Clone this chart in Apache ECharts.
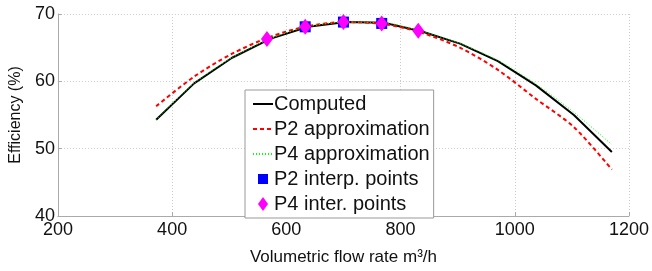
<!DOCTYPE html>
<html>
<head>
<meta charset="utf-8">
<script src="https://cdn.jsdelivr.net/npm/echarts@6/dist/echarts.min.js"></script>
<style>
html,body{margin:0;padding:0;background:#fff;}
#chart{width:652px;height:271px;}
</style>
</head>
<body>
<div id="chart"></div>
<script>
const flowRates = [372, 438.5, 505, 571.5, 638, 704.5, 771, 837.5, 904, 970.5, 1037, 1103.5, 1170];
const computed = [54.3, 59.7, 63.5, 66.3, 68.1, 68.8, 68.7, 67.4, 65.6, 63.0, 59.4, 55.0, 49.5];
const p2Approx = [56.3, 60.7, 64.1, 66.6, 68.2, 68.8, 68.5, 67.2, 65.0, 61.7, 57.4, 53.2, 46.9];
const p4Approx = [54.3, 59.7, 63.5, 66.3, 68.1, 68.8, 68.7, 67.4, 65.6, 63.1, 59.6, 55.4, 50.6];
const p2PointsX = [633, 700, 767];
const p2PointsY = [68.1, 68.8, 68.6];
const p4PointsX = [566, 633, 700, 767, 831];
const p4PointsY = [66.3, 68.1, 68.8, 68.6, 67.5];
const xTicks = [200, 400, 600, 800, 1000, 1200];
const yTicks = [40, 50, 60, 70];

const zip = (xs, ys) => xs.map((x, i) => [x, ys[i]]);
const FONT = '"Liberation Sans", Arial, Helvetica, sans-serif';
const squareIcon = 'path://M0,0L0.01,0L0,0.01ZM2,2L12,2L12,12L2,12ZM14,14L13.99,14L14,13.99Z';
const diamondIcon = 'path://M5,0L10,7L5,14L0,7Z';

const chart = echarts.init(document.getElementById('chart'), null, {renderer: 'canvas'});
chart.setOption({
  animation: false,
  backgroundColor: '#fff',
  textStyle: {fontFamily: FONT},
  grid: {left: 53, right: 23, top: 14, bottom: 54, containLabel: false},
  xAxis: {
    type: 'value', min: xTicks[0], max: xTicks[xTicks.length - 1], interval: 200,
    name: 'Volumetric flow rate m³/h', nameLocation: 'middle', nameGap: 33,
    nameTextStyle: {fontSize: 17, color: '#111', fontFamily: FONT},
    axisLine: {show: true, lineStyle: {color: '#aaa', width: 1}},
    axisTick: {show: true, inside: true, length: 4, lineStyle: {color: '#aaa'}},
    axisLabel: {fontSize: 18, color: '#111', margin: 5, fontFamily: FONT, formatter: v => String(v)},
    splitLine: {show: true, lineStyle: {color: '#ccc', type: [1, 2], width: 1}}
  },
  yAxis: {
    type: 'value', min: yTicks[0], max: yTicks[yTicks.length - 1], interval: 10,
    name: 'Efficiency (%)', nameLocation: 'middle', nameGap: 30, nameRotate: 90,
    nameTextStyle: {fontSize: 16, color: '#111', fontFamily: FONT},
    axisLine: {show: true, lineStyle: {color: '#aaa', width: 1}},
    axisTick: {show: true, inside: true, length: 4, lineStyle: {color: '#aaa'}},
    axisLabel: {fontSize: 18, color: '#111', margin: 3, fontFamily: FONT, formatter: v => String(v)},
    splitLine: {show: true, lineStyle: {color: '#ccc', type: [1, 2], width: 1}}
  },
  legend: {
    orient: 'vertical', left: 245, top: 90,
    padding: [4, 4, 4, 7],
    backgroundColor: '#fff', borderColor: '#999', borderWidth: 1,
    itemWidth: 20, itemHeight: 14, itemGap: 5,
    textStyle: {fontSize: 20, color: '#111', fontFamily: FONT, lineHeight: 20, padding: [0, 0, 0, -4]},
    data: [
      {name: 'Computed', itemStyle: {opacity: 0}},
      {name: 'P2 approximation', itemStyle: {opacity: 0}},
      {name: 'P4 approximation', itemStyle: {opacity: 0}},
      {name: 'P2 interp. points', icon: squareIcon},
      {name: 'P4 inter. points', icon: diamondIcon}
    ]
  },
  series: [
    {name: 'Computed', type: 'line', data: zip(flowRates, computed), symbol: 'none',
     lineStyle: {color: '#000', width: 2}, itemStyle: {color: '#000'}, z: 2},
    {name: 'P2 approximation', type: 'line', data: zip(flowRates, p2Approx), symbol: 'none', smooth: 0.3,
     lineStyle: {color: '#ff0000', width: 2, type: [4, 3]}, itemStyle: {color: '#ff0000'}, z: 3},
    {name: 'P4 approximation', type: 'line', data: zip(flowRates, p4Approx), symbol: 'none', smooth: 0.3,
     lineStyle: {color: '#00ff00', width: 1, type: [1, 2]}, itemStyle: {color: '#00ff00'}, z: 4},
    {name: 'P2 interp. points', type: 'scatter', data: zip(p2PointsX, p2PointsY), symbol: 'rect', symbolSize: 11,
     itemStyle: {color: '#0000ff', opacity: 1}, z: 5},
    {name: 'P4 inter. points', type: 'scatter', data: zip(p4PointsX, p4PointsY), symbol: 'diamond', symbolSize: [12, 16],
     itemStyle: {color: '#ff00ff', opacity: 1}, z: 6}
  ]
});
</script>
</body>
</html>
